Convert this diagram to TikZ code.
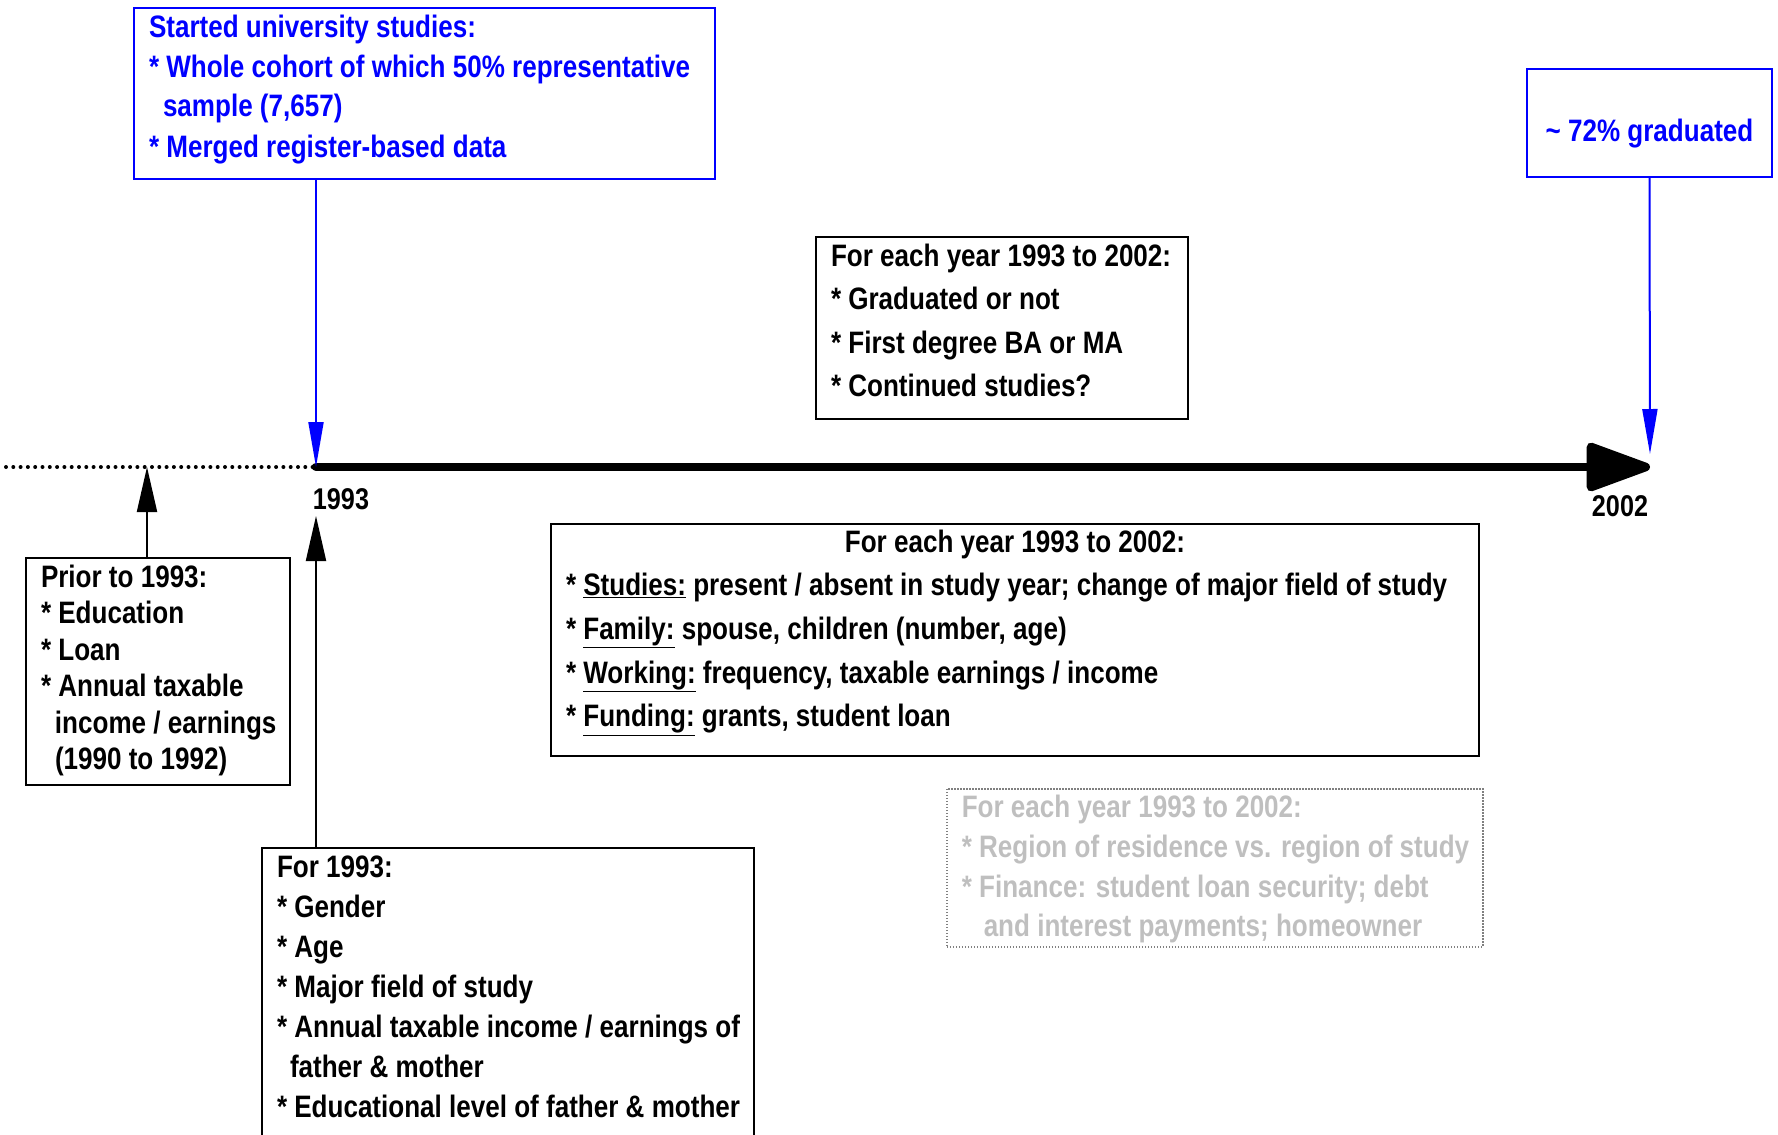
\documentclass[tikz,border=0pt]{standalone}
\usepackage{fontspec}
\setmainfont{Liberation Sans}[FakeStretch=0.84]
\usetikzlibrary{arrows.meta}

\definecolor{pptblue}{RGB}{0,0,255}
\definecolor{fadedtext}{RGB}{191,191,191}
\definecolor{fadedline}{RGB}{128,128,128}

% width, height, first baseline, line pitch, lines
\newcommand{\panel}[5]{%
  \begin{minipage}[t][#2pt][t]{#1pt}%
  \fontsize{31}{#4}\selectfont\bfseries\setlength{\leftskip}{15pt}%
  \rule{0pt}{#3pt}#5%
  \end{minipage}}

\begin{document}
\begin{tikzpicture}[x=1pt,y=-1pt]
\useasboundingbox (0,0) rectangle (1778,1135);

% points on the time line
\coordinate (tleft) at (6,467);
\coordinate (tpre)  at (147,467);
\coordinate (t1993) at (316,467);
\coordinate (t2002) at (1650,467);

\begin{scope}[every node/.style={draw,line width=2pt,inner sep=0pt,anchor=north west}]
    \node [draw=pptblue,text=pptblue] (start) at (133,7) {\panel{581}{171}{29}{40}{%
        \mbox{Started university studies:}\\
        \mbox{* Whole cohort of which 50\% representative}\\
        \mbox{\hspace*{14pt}sample (7,657)}\\
        \mbox{* Merged register-based data}}};
    \node [draw=pptblue,text=pptblue] (grad) at (1526,68) {\panel{245}{108}{72}{40}{%
        \makebox[215pt][c]{\textasciitilde{} 72\% graduated}}};
    \node (each) at (815,236) {\panel{372}{182}{29}{43.5}{%
        \mbox{For each year 1993 to 2002:}\\
        \mbox{* Graduated or not}\\
        \mbox{* First degree BA or MA}\\
        \mbox{* Continued studies?}}};
    \node (prior) at (25,557) {\panel{264}{227}{29}{36.5}{%
        \mbox{Prior to 1993:}\\
        \mbox{* Education}\\
        \mbox{* Loan}\\
        \mbox{* Annual taxable}\\
        \mbox{\hspace*{14pt}income / earnings}\\
        \mbox{\hspace*{14pt}(1990 to 1992)}}};
    \node (yearly) at (550,523) {\panel{928}{232}{28}{43.7}{%
        \makebox[898pt][c]{For each year 1993 to 2002:}\\
        \mbox{* \underline{Studies:} present / absent in study year; change of major field of study}\\
        \mbox{* \underline{Family:} spouse, children (number, age)}\\
        \mbox{* \underline{Working:} frequency, taxable earnings / income}\\
        \mbox{* \underline{Funding:} grants, student loan}}};
    \node [draw=fadedline,line width=1.5pt,dash pattern=on 1.5pt off 1.5pt,text=fadedtext] (extra) at (946,788) {\panel{536}{158}{29}{39.7}{%
        \mbox{For each year 1993 to 2002:}\\
        \mbox{* Region of residence vs. region of study}\\
        \mbox{* Finance: student loan security; debt}\\
        \mbox{\hspace*{22pt}and interest payments; homeowner}}};
    \node (first) at (261,847) {\panel{492}{300}{29}{40}{%
        \mbox{For 1993:}\\
        \mbox{* Gender}\\
        \mbox{* Age}\\
        \mbox{* Major field of study}\\
        \mbox{* Annual taxable income / earnings of}\\
        \mbox{\hspace*{13pt}father \& mother}\\
        \mbox{* Educational level of father \& mother}}};
\end{scope}

% year labels
\node [font=\fontsize{30}{34}\selectfont\bfseries] (lbl1993) at (341,499) {1993};
\node [font=\fontsize{30}{34}\selectfont\bfseries] (lbl2002) at (1620,506) {2002};

% the time line
\draw [line width=4pt,dash pattern=on 0pt off 7.3pt,line cap=round] (tleft) -- (t1993);
\draw [line width=8.5pt,line cap=round,-{Triangle[length=72pt,width=50pt,round]}] (t1993) -- (t2002);

\begin{scope}[every path/.style={line width=2pt}]
    \draw [draw=pptblue,-{Triangle[length=45pt,width=15pt,fill=pptblue]}] (start.south -| t1993) -- (t1993);
    \draw [draw=pptblue,shorten >=13pt,-{Triangle[length=45pt,width=15pt,fill=pptblue]}] (grad.south) -- (t2002);
    \draw [-{Triangle[length=45pt,width=20pt]}] (prior.north -| tpre) -- (tpre);
    \draw [shorten >=49pt,-{Triangle[length=45pt,width=20pt]}] (first.north -| t1993) -- (t1993);
\end{scope}
\end{tikzpicture}
\end{document}
